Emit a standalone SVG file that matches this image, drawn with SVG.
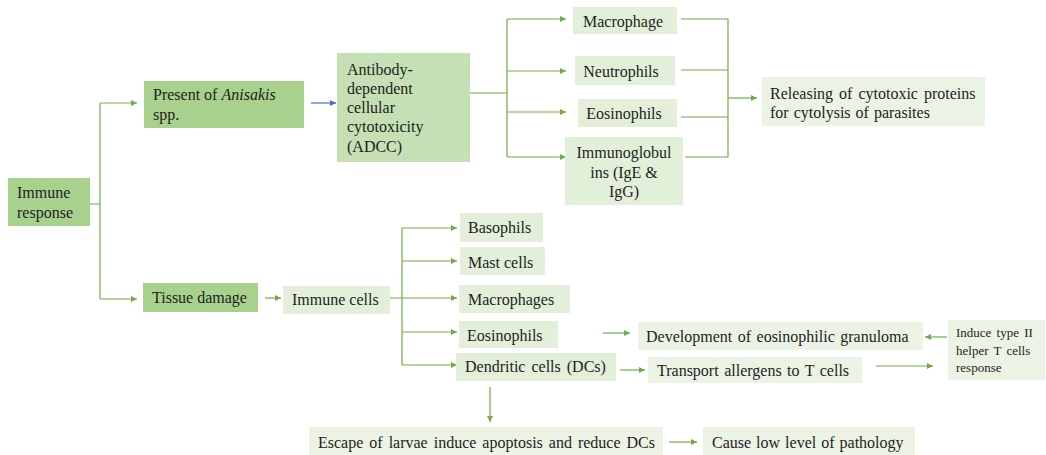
<svg xmlns="http://www.w3.org/2000/svg" width="1046" height="455" viewBox="0 0 1046 455" font-family="'Liberation Serif', 'Times New Roman', serif">
<style>
text{font-family:'Liberation Serif','Times New Roman',serif;font-size:16px;fill:#1e1e1e}
.s{font-size:13px}
.dk{fill:#a9d18e}
.md{fill:#c5e0b4}
.lt{fill:#e2f0d9}
.vl{fill:#ebf3e5}
.c{fill:none;stroke:#70ad47;stroke-width:1.2}
.b{fill:none;stroke:#4472c4;stroke-width:1.2}
</style>
<defs>
<marker id="ag" viewBox="0 0 6 6" refX="6" refY="3" markerWidth="6" markerHeight="6" markerUnits="userSpaceOnUse" orient="auto"><path d="M0,0 L6,3 L0,6 z" fill="#70ad47"/></marker>
<marker id="ab" viewBox="0 0 6 6" refX="6" refY="3" markerWidth="6" markerHeight="6" markerUnits="userSpaceOnUse" orient="auto"><path d="M0,0 L6,3 L0,6 z" fill="#4472c4"/></marker>
</defs>
<rect width="1046" height="455" fill="#ffffff"/>
<g id="connectors">
<path class="c" d="M90,204 H100 M100,103 V299"/>
<path class="c" d="M100,103 H137" marker-end="url(#ag)"/>
<path class="c" d="M100,299 H137" marker-end="url(#ag)"/>
<path class="b" d="M311,103 H336" marker-end="url(#ab)"/>
<path class="c" d="M470,93 H507 M507,19 V157"/>
<path class="c" d="M507,19 H566" marker-end="url(#ag)"/>
<path class="c" d="M507,71 H566" marker-end="url(#ag)"/>
<path class="c" d="M507,112 H566" marker-end="url(#ag)"/>
<path class="c" d="M507,157 H566" marker-end="url(#ag)"/>
<path class="c" d="M681,19 H728 M681,70 H728 M681,117 H728 M685,157 H728 M728,19 V157"/>
<path class="c" d="M728,98 H757" marker-end="url(#ag)"/>
<path class="c" d="M265,298 H281" marker-end="url(#ag)"/>
<path class="c" d="M390,298 H402 M402,228 V365"/>
<path class="c" d="M402,228 H457" marker-end="url(#ag)"/>
<path class="c" d="M402,261 H457" marker-end="url(#ag)"/>
<path class="c" d="M402,298 H457" marker-end="url(#ag)"/>
<path class="c" d="M402,332 H457" marker-end="url(#ag)"/>
<path class="c" d="M402,365 H457" marker-end="url(#ag)"/>
<path class="c" d="M603,333 H630" marker-end="url(#ag)"/>
<path class="c" d="M947,337 H925" marker-end="url(#ag)"/>
<path class="c" d="M620,370 H645" marker-end="url(#ag)"/>
<path class="c" d="M876,366 H933" marker-end="url(#ag)"/>
<path class="c" d="M490,387 V422" marker-end="url(#ag)"/>
<path class="c" d="M669,442 H697" marker-end="url(#ag)"/>
</g>
<g id="immune-response"><rect class="dk" x="8" y="178" width="82" height="48"/><text x="17" y="198">Immune</text><text x="17" y="218">response</text></g>
<g id="present-anisakis"><rect class="dk" x="144" y="81" width="160" height="47"/><text x="153" y="100">Present of <tspan font-style="italic">Anisakis</tspan></text><text x="153" y="120">spp.</text></g>
<g id="tissue-damage"><rect class="dk" x="143" y="283" width="115" height="29"/><text x="152" y="303">Tissue damage</text></g>
<g id="adcc"><rect class="md" x="337" y="53" width="133" height="109"/>
<text x="347" y="75">Antibody-</text><text x="347" y="94">dependent</text><text x="347" y="113">cellular</text><text x="347" y="132">cytotoxicity</text><text x="347" y="152">(ADCC)</text></g>
<g id="macrophage"><rect class="lt" x="573" y="7" width="104" height="27"/><text x="623" y="27" text-anchor="middle">Macrophage</text></g>
<g id="neutrophils"><rect class="lt" x="575" y="56" width="100" height="29"/><text x="621" y="77" text-anchor="middle">Neutrophils</text></g>
<g id="eosinophils-top"><rect class="lt" x="578" y="99" width="99" height="28"/><text x="624" y="119" text-anchor="middle">Eosinophils</text></g>
<g id="immunoglobulins"><rect class="lt" x="565" y="137" width="118" height="68"/><text x="624" y="158" text-anchor="middle">Immunoglobul</text><text x="624" y="178" text-anchor="middle">ins (IgE &amp;</text><text x="624" y="197" text-anchor="middle">IgG)</text></g>
<g id="releasing"><rect class="vl" x="762" y="77" width="223" height="49"/><text x="770" y="99" word-spacing="2">Releasing of cytotoxic proteins</text><text x="770" y="118" word-spacing="1">for cytolysis of parasites</text></g>
<g id="immune-cells"><rect class="lt" x="283" y="286" width="107" height="28"/><text x="292" y="305">Immune cells</text></g>
<g id="basophils"><rect class="lt" x="460" y="213" width="83" height="29"/><text x="468" y="233">Basophils</text></g>
<g id="mast-cells"><rect class="lt" x="460" y="247" width="85" height="28"/><text x="468" y="268">Mast cells</text></g>
<g id="macrophages"><rect class="lt" x="459" y="285" width="111" height="28"/><text x="468" y="305">Macrophages</text></g>
<g id="eosinophils"><rect class="lt" x="459" y="321" width="99" height="27"/><text x="467" y="341">Eosinophils</text></g>
<g id="dendritic"><rect class="lt" x="456" y="353" width="160" height="28"/><text x="465" y="372" word-spacing="2">Dendritic cells (DCs)</text></g>
<g id="development"><rect class="vl" x="638" y="322" width="285" height="28"/><text x="646" y="342" word-spacing="1.5">Development of eosinophilic granuloma</text></g>
<g id="induce"><rect class="vl" x="948" y="320" width="97" height="60"/><text class="s" x="956" y="337" word-spacing="2">Induce type II</text><text class="s" x="956" y="355" word-spacing="2">helper T cells</text><text class="s" x="956" y="372">response</text></g>
<g id="transport"><rect class="vl" x="648" y="357" width="214" height="26"/><text x="657" y="376" word-spacing="1.5">Transport allergens to T cells</text></g>
<g id="escape"><rect class="vl" x="309" y="427" width="354" height="28"/><text x="318" y="448" word-spacing="2">Escape of larvae induce apoptosis and reduce DCs</text></g>
<g id="cause"><rect class="vl" x="703" y="427" width="212" height="28"/><text x="712" y="448" word-spacing="1">Cause low level of pathology</text></g>
</svg>
